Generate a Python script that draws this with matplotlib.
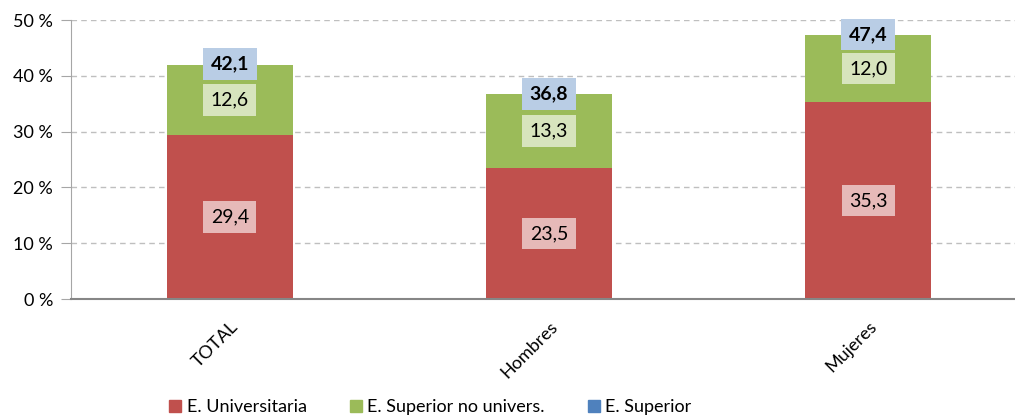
import matplotlib.pyplot as plt
from matplotlib.patches import Patch

# datos
categorias = ["TOTAL", "Hombres", "Mujeres"]
universitaria = [29.4, 23.5, 35.3]
superior_no_univ = [12.6, 13.3, 12.0]
superior = [42.1, 36.8, 47.4]

c_rojo = "#C0504D"
c_verde = "#9BBB59"
c_azul = "#4F81BD"

plt.rcParams['font.family'] = ['Lato', 'DejaVu Sans']

fig = plt.figure(figsize=(10.15, 4.19), dpi=100)
ax = fig.add_axes([71 / 1015, 1 - 299 / 419, (1015 - 71) / 1015, 279 / 419])

x = range(len(categorias))
ancho = 0.395
ax.bar(x, universitaria, width=ancho, color=c_rojo, zorder=2)
ax.bar(x, superior_no_univ, width=ancho, bottom=universitaria, color=c_verde, zorder=2)

for i in x:
    ax.text(i, universitaria[i] / 2, f"{universitaria[i]:.1f}".replace(".", ","),
            ha='center', va='center', fontsize=14, color='black', zorder=3,
            bbox=dict(boxstyle='square,pad=0.38', fc='#E6B9B8', ec='none'))
    ax.text(i, universitaria[i] + superior_no_univ[i] / 2,
            f"{superior_no_univ[i]:.1f}".replace(".", ","),
            ha='center', va='center', fontsize=14, color='black', zorder=3,
            bbox=dict(boxstyle='square,pad=0.38', fc='#D7E4BD', ec='none'))
    ax.text(i, superior[i], f"{superior[i]:.1f}".replace(".", ","),
            ha='center', va='center', fontsize=14, fontweight='bold', color='black', zorder=3,
            bbox=dict(boxstyle='square,pad=0.38', fc='#B9CDE5', ec='none'))

ax.set_xlim(-0.498, 2.46)
ax.set_ylim(0, 50)
ax.set_yticks([0, 10, 20, 30, 40, 50])
ax.set_yticklabels([f"{v} %" for v in [0, 10, 20, 30, 40, 50]], fontsize=13)
ax.yaxis.grid(True, linestyle=(0, (4, 3)), color='#BFBFBF', linewidth=1, zorder=0)
ax.set_axisbelow(True)

ax.set_xticks(list(x))
ax.set_xticklabels(categorias, rotation=45, ha='right', va='top',
                   rotation_mode='anchor', fontsize=13)
ax.tick_params(axis='x', length=0, pad=14)
ax.tick_params(axis='y', length=7, color='#A6A6A6', pad=6)

for s in ['top', 'right']:
    ax.spines[s].set_visible(False)
ax.spines['left'].set_color('#A6A6A6')
ax.spines['bottom'].set_color('#868686')
ax.spines['bottom'].set_linewidth(1.5)

handles = [Patch(color=c_rojo), Patch(color=c_verde), Patch(color=c_azul)]
fig.legend(handles, ["E. Universitaria", "E. Superior no univers.", "E. Superior"],
           loc='center', bbox_to_anchor=(0.424, 0.028), ncol=3, frameon=False,
           fontsize=13, handlelength=0.65, handleheight=0.65, handletextpad=0.3,
           columnspacing=2.4)

fig.savefig("out.png", dpi=100)
